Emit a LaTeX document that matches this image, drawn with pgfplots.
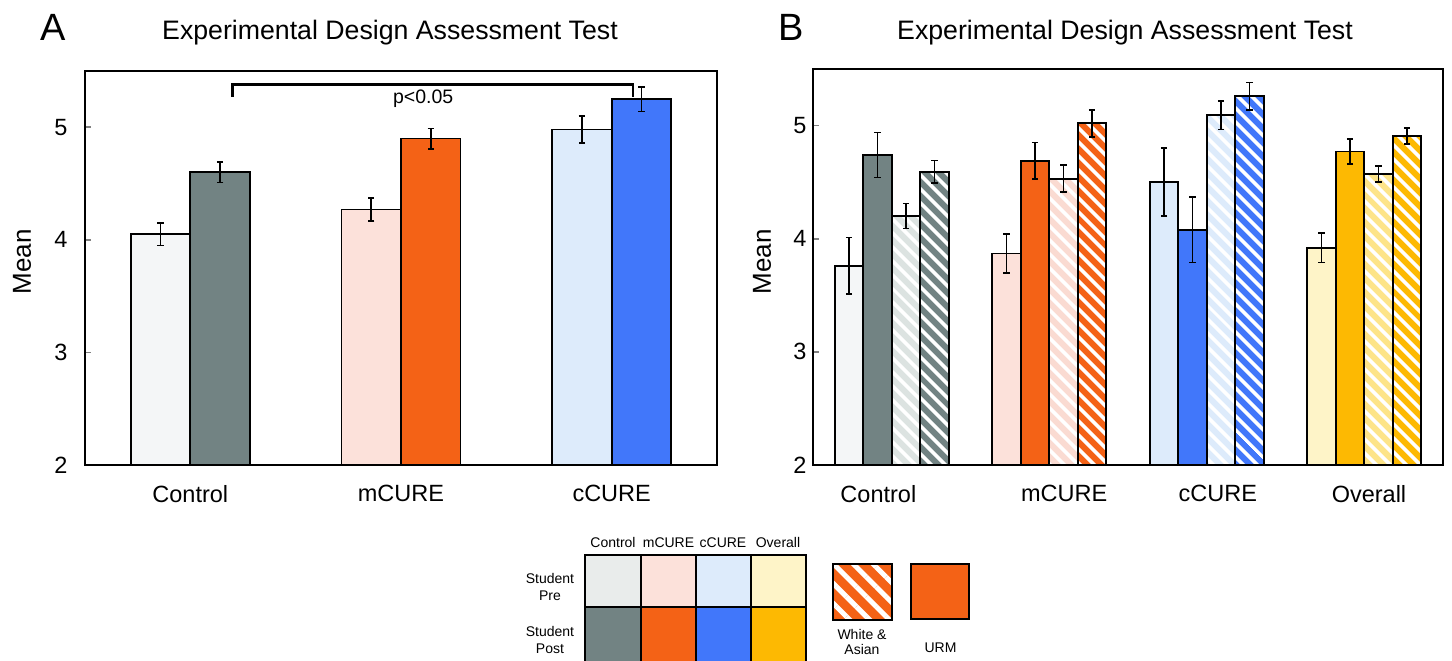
\documentclass[border=0pt]{standalone}
\usepackage{pgfplots}
\pgfplotsset{compat=1.18}
\usetikzlibrary{patterns.meta}
\usepackage{fontspec}
\setmainfont{Liberation Sans}

\definecolor{ctrlpre}{HTML}{F4F6F7}
\definecolor{ctrlpost}{HTML}{728383}
\definecolor{ctrlhpre}{HTML}{DCE3E1}
\definecolor{mpre}{HTML}{FCE1DA}
\definecolor{mpost}{HTML}{F46216}
\definecolor{mhpre}{HTML}{FADBD2}
\definecolor{cpre}{HTML}{DDEBFB}
\definecolor{cpost}{HTML}{4177FA}
\definecolor{chpre}{HTML}{DDEBFB}
\definecolor{opre}{HTML}{FEF4C8}
\definecolor{opost}{HTML}{FDB902}
\definecolor{ohpre}{HTML}{FDE488}
\definecolor{legctrl}{HTML}{E9ECEB}

\newcommand{\fs}[1]{\fontsize{#1}{#1}\selectfont}

\pgfplotsset{
  panel/.style={
    scale only axis,
    anchor=south west,
    ymin=2, ymax=5.5,
    xmin=-0.5,
    ytick={2,3,4,5},
    ytick pos=left,
    tick align=inside,
    major tick length=6pt,
    xtick style={draw=none},
    axis line style={line width=1.6pt},
    ytick style={line width=1.6pt},
    tick label style={font=\fs{23.5}},
    /pgf/number format/assume math mode=true,
    axis on top,
  },
  bbar/.style n args={2}{
    ybar, bar width=#1, bar shift=#2, draw=black, line width=1.8pt,
    error bars/y dir=both, error bars/y explicit,
    error bars/error bar style={line width=1.7pt, black, xshift=#2},
    error bars/error mark options={rotate=90, mark size=3.2pt, line width=1.7pt, black},
  },
  hatch/.style={postaction={pattern={Lines[angle=-45,distance=10.5pt,line width=4pt]}, pattern color=white}},
}

\begin{document}
\begin{tikzpicture}[x=1pt,y=1pt]
\useasboundingbox (0,0) rectangle (1452,661);

% ---------------- Panel A ----------------
\node[font=\fs{38}, anchor=base] at (53,620) {A};
\node[font=\fs{26.7}, anchor=base] at (390,621) {Experimental Design Assessment Test};
\node[font=\fs{26}, rotate=90] at (22,399) {Mean};
\begin{axis}[panel, at={(85pt,196pt)}, width=632pt, height=394pt,
  xmax=2.5, xtick={0,1,2}, xticklabels={Control,mCURE,cCURE},
  yticklabel style={xshift=-14pt}, xticklabel style={yshift=-17pt}]
\addplot[bbar={59.5pt}{-29.75pt}, fill=ctrlpre] coordinates {(0,4.05) +- (0,0.10)};
\addplot[bbar={59.5pt}{29.75pt}, fill=ctrlpost] coordinates {(0,4.60) +- (0,0.09)};
\addplot[bbar={59.5pt}{-29.75pt}, fill=mpre] coordinates {(1,4.27) +- (0,0.10)};
\addplot[bbar={59.5pt}{29.75pt}, fill=mpost] coordinates {(1,4.90) +- (0,0.09)};
\addplot[bbar={59.5pt}{-29.75pt}, fill=cpre] coordinates {(2,4.98) +- (0,0.12)};
\addplot[bbar={59.5pt}{29.75pt}, fill=cpost] coordinates {(2,5.25) +- (0,0.11)};
\draw[line width=2.2pt] (axis cs:0.2,5.27) -- (axis cs:0.2,5.38) -- (axis cs:2.1,5.38) -- (axis cs:2.1,5.27);
\node[font=\fs{19.5}] at (axis cs:1.105,5.25) {p<0.05};
\end{axis}

% ---------------- Panel B ----------------
\node[font=\fs{38}, anchor=base] at (791,620) {B};
\node[font=\fs{26.7}, anchor=base] at (1125,621) {Experimental Design Assessment Test};
\node[font=\fs{26}, rotate=90] at (762,399) {Mean};
\begin{axis}[panel, at={(813pt,196pt)}, width=630pt, height=396pt,
  xmax=3.5, xtick={-0.085,1.095,2.07,3.03}, xticklabels={Control,mCURE,cCURE,Overall},
  yticklabel style={xshift=-3pt}, xticklabel style={yshift=-17pt}]
% Control
\addplot[bbar={28.5pt}{-42.75pt}, fill=ctrlpre] coordinates {(0,3.76) +- (0,0.25)};
\addplot[bbar={28.5pt}{-14.25pt}, fill=ctrlpost] coordinates {(0,4.74) +- (0,0.20)};
\addplot[bbar={28.5pt}{14.25pt}, fill=ctrlhpre, hatch] coordinates {(0,4.20) +- (0,0.11)};
\addplot[bbar={28.5pt}{42.75pt}, fill=ctrlpost, hatch] coordinates {(0,4.59) +- (0,0.10)};
% mCURE
\addplot[bbar={28.5pt}{-42.75pt}, fill=mpre] coordinates {(1,3.87) +- (0,0.17)};
\addplot[bbar={28.5pt}{-14.25pt}, fill=mpost] coordinates {(1,4.69) +- (0,0.16)};
\addplot[bbar={28.5pt}{14.25pt}, fill=mhpre, hatch] coordinates {(1,4.53) +- (0,0.12)};
\addplot[bbar={28.5pt}{42.75pt}, fill=mpost, hatch] coordinates {(1,5.02) +- (0,0.12)};
% cCURE
\addplot[bbar={28.5pt}{-42.75pt}, fill=cpre] coordinates {(2,4.50) +- (0,0.30)};
\addplot[bbar={28.5pt}{-14.25pt}, fill=cpost] coordinates {(2,4.08) +- (0,0.29)};
\addplot[bbar={28.5pt}{14.25pt}, fill=chpre, hatch] coordinates {(2,5.09) +- (0,0.125)};
\addplot[bbar={28.5pt}{42.75pt}, fill=cpost, hatch] coordinates {(2,5.26) +- (0,0.12)};
% Overall
\addplot[bbar={28.5pt}{-42.75pt}, fill=opre] coordinates {(3,3.92) +- (0,0.13)};
\addplot[bbar={28.5pt}{-14.25pt}, fill=opost] coordinates {(3,4.77) +- (0,0.11)};
\addplot[bbar={28.5pt}{14.25pt}, fill=ohpre, hatch] coordinates {(3,4.57) +- (0,0.07)};
\addplot[bbar={28.5pt}{42.75pt}, fill=opost, hatch] coordinates {(3,4.91) +- (0,0.07)};
\end{axis}

% ---------------- Legend ----------------
\begin{scope}[font=\fs{14}]
\node[anchor=base] at (613,113) {Control};
\node[anchor=base] at (668.5,113) {mCURE};
\node[anchor=base] at (723,113) {cCURE};
\node[anchor=base] at (778,113) {Overall};
\fill[legctrl] (585,54.3) rectangle (641,106);
\fill[mpre] (641,54.3) rectangle (696,106);
\fill[cpre] (696,54.3) rectangle (750.7,106);
\fill[opre] (750.7,54.3) rectangle (806,106);
\fill[ctrlpost] (585,-5) rectangle (641,54.3);
\fill[mpost] (641,-5) rectangle (696,54.3);
\fill[cpost] (696,-5) rectangle (750.7,54.3);
\fill[opost] (750.7,-5) rectangle (806,54.3);
\draw[line width=2pt] (585,-5) -- (585,106) -- (806,106) -- (806,-5);
\draw[line width=2pt] (585,54.3) -- (806,54.3);
\foreach \xx in {641,696,750.7} \draw[line width=2pt] (\xx,-5) -- (\xx,106);
\node[align=center, font=\fontsize{14}{17}\selectfont] at (550,74) {Student\\Pre};
\node[align=center, font=\fontsize{14}{17}\selectfont] at (550,21) {Student\\Post};
\fill[mpost] (833,41) rectangle (892,97);
\fill[pattern={Lines[angle=-45,distance=14pt,line width=5pt]}, pattern color=white] (833,41) rectangle (892,97);
\draw[line width=2pt] (833,41) rectangle (892,97);
\fill[mpost] (911,42) rectangle (969,97);
\draw[line width=2pt] (911,42) rectangle (969,97);
\node[align=center, font=\fontsize{14}{15}\selectfont] at (862,19) {White \&\\Asian};
\node at (940.5,13) {URM};
\end{scope}
\end{tikzpicture}
\end{document}
